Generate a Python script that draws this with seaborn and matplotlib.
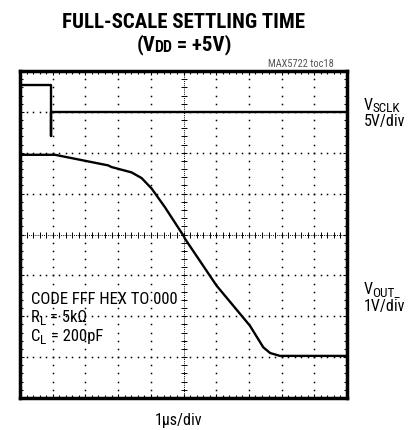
import numpy as np
import pandas as pd
import seaborn as sns
import matplotlib
matplotlib.use("Agg")
import matplotlib.pyplot as plt
from matplotlib.transforms import IdentityTransform

# scope traces, in screen divisions (10 x 8 grid)
sclk_t = [0, 0.94, 0.94, 0.94, 10]
sclk_v = [7.66, 7.66, 6.4, 7.0, 7.0]

vout_t = [0, 1.07, 2.7, 2.8, 3.41, 3.72, 4.03, 4.43, 5.0, 5.05, 6.01, 7.03, 7.44, 7.65, 7.95, 10]
vout_v = [5.95, 5.95, 5.69, 5.65, 5.52, 5.38, 5.12, 4.67, 3.97, 3.89, 2.75, 1.77, 1.24, 1.1, 1.03, 1.03]

sns.set_theme(style="white")
plt.rcParams["font.family"] = ["Roboto Condensed", "DejaVu Sans"]
plt.rcParams["text.color"] = "black"

W, H = 419, 431
fig = plt.figure(figsize=(W / 100, H / 100), dpi=100)
ax = fig.add_axes([20 / W, 32 / H, 327 / W, 327 / H])
ax.set_xlim(0, 10)
ax.set_ylim(0, 8)

# dotted graticule
for k in range(1, 10):
    if k != 5:
        ys = np.arange(0, 8.01, 0.2)
        ax.plot(np.full_like(ys, k), ys, ls="none", marker="s", ms=1.1, color="black", mew=0)
for k in range(1, 8):
    if k != 4:
        xs = np.arange(0, 10.01, 0.2)
        ax.plot(xs, np.full_like(xs, k), ls="none", marker="s", ms=1.1, color="black", mew=0)

# center cross with small ticks
xs = np.arange(0, 10.01, 0.2)
ax.plot(xs, np.full_like(xs, 4), ls=(0, (1, 1.2)), lw=0.7, color="black",
        marker="|", ms=4, mew=0.7)
ys = np.arange(0, 8.01, 0.2)
ax.plot(np.full_like(ys, 5), ys, ls=(0, (1, 1.2)), lw=0.7, color="black",
        marker="_", ms=4, mew=0.7)

sclk = pd.DataFrame({"t": sclk_t, "v": sclk_v})
vout = pd.DataFrame({"t": vout_t, "v": vout_v})
sns.lineplot(data=sclk, x="t", y="v", sort=False, estimator=None, color="black", lw=1.7, ax=ax)
sns.lineplot(data=vout, x="t", y="v", sort=False, estimator=None, color="black", lw=1.7, ax=ax)

ax.set_xticks(np.arange(0, 11, 1))
ax.set_yticks(np.arange(0, 9, 1))
ax.set_xticks(np.arange(0, 10.01, 0.2), minor=True)
ax.set_yticks(np.arange(0, 8.01, 0.2), minor=True)
ax.tick_params(which="both", direction="in", top=True, right=True, bottom=True, left=True,
               labelbottom=False, labelleft=False, color="black")
ax.tick_params(which="major", length=3, width=0.8)
ax.tick_params(which="minor", length=2, width=0.8)
ax.set_xlabel("")
ax.set_ylabel("")
for s in ax.spines.values():
    s.set_color("black")
    s.set_linewidth(2.5)


def rich(x, y, parts, ha="left", weight="normal"):
    # parts: (text, fontsize, drop in px, kern in px); y is the baseline, from the top
    r = fig.canvas.get_renderer()
    texts = []
    cx = x
    for s, size, dy, kern in parts:
        cx += kern
        t = fig.text(cx, H - y - dy, s, fontsize=size, fontweight=weight,
                     ha="left", va="baseline", transform=IdentityTransform())
        cx += t.get_window_extent(r).width
        texts.append(t)
    if ha == "center":
        shift = (cx - x) / 2
        for t in texts:
            px, py = t.get_position()
            t.set_position((px - shift, py))


rich(183, 28, [("FULL-SCALE SETTLING TIME", 15, 0, 0)], ha="center", weight="bold")
rich(184, 50, [("(V", 15, 0, 0), ("DD", 11.5, 2, -1.5), (" = +5V)", 15, 0, 0)],
     ha="center", weight="bold")
fig.text(334 / W, 1 - 64 / H, "MAX5722 toc18", ha="right", va="center",
         fontsize=7.5, color="#555555")

rich(364, 110, [("V", 11.5, 0, 0), ("SCLK", 9.5, 2, -0.5)])
rich(364, 126, [("5V/div", 11.5, 0, 0)])
rich(364, 294, [("V", 11.5, 0, 0), ("OUT_", 9.5, 2, -0.5)])
rich(364, 311, [("1V/div", 11.5, 0, 0)])

rich(31, 304, [("CODE FFF HEX TO 000", 12, 0, 0)])
rich(31, 322, [("R", 12, 0, 0), ("L", 9.5, 3, 0), (" = 5k\u03a9", 12, 0, 0)])
rich(31, 341, [("C", 12, 0, 0), ("L", 9.5, 3, 0), (" = 200pF", 12, 0, 0)])

rich(179, 425, [("1\u00b5s/div", 11.5, 0, 0)], ha="center")

fig.savefig("out.png", dpi=100)
